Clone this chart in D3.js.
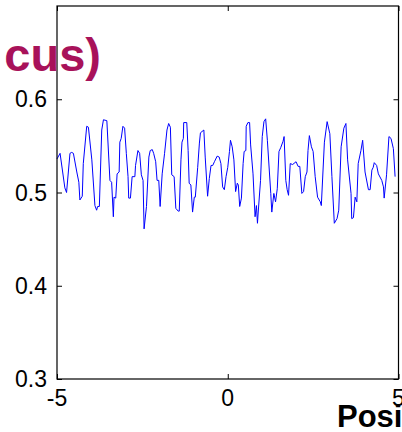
<!DOCTYPE html>
<html>
<head>
<meta charset="utf-8">
<script src="https://cdn.jsdelivr.net/npm/d3@7"></script>
<style>
  html, body { margin: 0; padding: 0; background: #fff; overflow: hidden; }
  svg { display: block; font-family: "Liberation Sans", Arial, Helvetica, sans-serif; }
</style>
</head>
<body>
<svg id="chart" width="402" height="432"></svg>
<script>
var positions = [
  -5.00, -4.91, -4.77, -4.72, -4.62, -4.57, -4.52, -4.42, -4.36, -4.33,
  -4.26, -4.23, -4.13, -4.08, -3.98, -3.89, -3.84, -3.81, -3.76, -3.69,
  -3.64, -3.54, -3.45, -3.40, -3.35, -3.33, -3.28, -3.24, -3.18, -3.16,
  -3.12, -3.07, -3.02, -2.97, -2.92, -2.90, -2.85, -2.80, -2.72, -2.70,
  -2.63, -2.58, -2.53, -2.48, -2.45, -2.38, -2.31, -2.27, -2.21, -2.17,
  -2.11, -2.07, -2.02, -1.98, -1.92, -1.85, -1.78, -1.73, -1.68, -1.64,
  -1.57, -1.52, -1.45, -1.42, -1.37, -1.34, -1.30, -1.29, -1.20, -1.16,
  -1.13, -1.08, -1.03, -0.98, -0.95, -0.88, -0.83, -0.80, -0.70, -0.66,
  -0.59, -0.54, -0.49, -0.44, -0.39, -0.31, -0.25, -0.20, -0.15, -0.10,
  -0.05, 0.00, 0.05, 0.08, 0.13, 0.18, 0.23, 0.28, 0.31, 0.35,
  0.40, 0.45, 0.48, 0.53, 0.54, 0.59, 0.64, 0.67, 0.74, 0.80,
  0.84, 0.87, 0.89, 0.96, 1.01, 1.06, 1.11, 1.16, 1.26, 1.29,
  1.35, 1.40, 1.45, 1.50, 1.55, 1.62, 1.65, 1.70, 1.74, 1.78,
  1.83, 1.90, 2.00, 2.06, 2.11, 2.17, 2.22, 2.27, 2.32, 2.35,
  2.39, 2.45, 2.50, 2.56, 2.63, 2.71, 2.74, 2.83, 2.91, 2.99,
  3.05, 3.12, 3.20, 3.25, 3.32, 3.40, 3.46, 3.51, 3.61, 3.63,
  3.68, 3.73, 3.78, 3.82, 3.90, 3.95, 4.02, 4.12, 4.17, 4.22,
  4.26, 4.29, 4.36, 4.41, 4.51, 4.56, 4.58, 4.65, 4.72, 4.78,
  4.85, 4.90
];
var signal = [
  0.536, 0.542, 0.505, 0.500, 0.542, 0.543, 0.542, 0.522, 0.511, 0.492,
  0.496, 0.531, 0.571, 0.570, 0.535, 0.486, 0.481, 0.485, 0.485, 0.567,
  0.578, 0.577, 0.513, 0.511, 0.474, 0.495, 0.494, 0.520, 0.522, 0.554,
  0.558, 0.571, 0.569, 0.542, 0.517, 0.494, 0.494, 0.517, 0.517, 0.529,
  0.545, 0.542, 0.519, 0.513, 0.461, 0.485, 0.538, 0.545, 0.546, 0.542,
  0.533, 0.513, 0.513, 0.485, 0.520, 0.542, 0.567, 0.574, 0.570, 0.519,
  0.517, 0.483, 0.480, 0.480, 0.535, 0.554, 0.558, 0.575, 0.575, 0.545,
  0.510, 0.508, 0.479, 0.495, 0.495, 0.527, 0.553, 0.564, 0.567, 0.538,
  0.496, 0.515, 0.529, 0.529, 0.533, 0.539, 0.538, 0.531, 0.506, 0.503,
  0.517, 0.527, 0.544, 0.556, 0.549, 0.535, 0.501, 0.510, 0.508, 0.485,
  0.494, 0.531, 0.544, 0.545, 0.571, 0.575, 0.575, 0.551, 0.520, 0.474,
  0.486, 0.467, 0.478, 0.513, 0.560, 0.576, 0.579, 0.556, 0.499, 0.479,
  0.499, 0.490, 0.504, 0.544, 0.548, 0.555, 0.560, 0.513, 0.503, 0.497,
  0.531, 0.530, 0.533, 0.528, 0.528, 0.499, 0.501, 0.517, 0.522, 0.545,
  0.561, 0.549, 0.544, 0.517, 0.495, 0.490, 0.486, 0.554, 0.576, 0.563,
  0.517, 0.467, 0.472, 0.481, 0.549, 0.569, 0.574, 0.535, 0.499, 0.472,
  0.473, 0.495, 0.490, 0.531, 0.545, 0.556, 0.522, 0.503, 0.503, 0.524,
  0.527, 0.532, 0.529, 0.520, 0.513, 0.506, 0.494, 0.519, 0.560, 0.558,
  0.547, 0.517
];
var xTicks = [-5, 0, 5];
var yTicks = [0.3, 0.4, 0.5, 0.6];
var titleText = "cus)";
var xLabelText = "Position";

(function () {
    var svg = d3.select("#chart");
    var plotLeft = 57, plotRight = 398.5, plotTop = 6, plotBottom = 379;

    var x = d3.scaleLinear().domain([-5, 5]).range([plotLeft, plotRight]);
    var y = d3.scaleLinear().domain([0.3, 0.7]).range([plotBottom, plotTop]);

    var points = positions.map(function (p, i) { return [p, signal[i]]; });

    // data line
    svg.append("path")
        .datum(points)
        .attr("fill", "none")
        .attr("stroke", "#0000ff")
        .attr("stroke-width", 1)
        .attr("d", d3.line()
            .x(function (d) { return x(d[0]); })
            .y(function (d) { return y(d[1]); }));

    // ticks on all four sides, pointing inward
    var tickLen = 5;
    function styleAxis(g) {
        g.selectAll("text").remove();
        g.selectAll("line").attr("stroke", "#000");
        g.select(".domain").remove();
    }
    svg.append("g")
        .attr("transform", "translate(0," + plotBottom + ")")
        .call(d3.axisTop(x).tickValues(xTicks).tickSize(tickLen))
        .call(styleAxis);
    svg.append("g")
        .attr("transform", "translate(0," + plotTop + ")")
        .call(d3.axisBottom(x).tickValues(xTicks).tickSize(tickLen))
        .call(styleAxis);
    svg.append("g")
        .attr("transform", "translate(" + plotLeft + ",0)")
        .call(d3.axisRight(y).tickValues(yTicks).tickSize(tickLen))
        .call(styleAxis);
    svg.append("g")
        .attr("transform", "translate(" + plotRight + ",0)")
        .call(d3.axisLeft(y).tickValues(yTicks).tickSize(tickLen))
        .call(styleAxis);

    // frame
    svg.append("rect")
        .attr("x", plotLeft)
        .attr("y", plotTop)
        .attr("width", plotRight - plotLeft)
        .attr("height", plotBottom - plotTop)
        .attr("fill", "none")
        .attr("stroke", "#000")
        .attr("stroke-width", 1.2);

    // tick labels
    svg.selectAll("text.xtick")
        .data(xTicks)
        .enter().append("text")
        .attr("class", "xtick")
        .attr("x", function (d) { return x(d); })
        .attr("y", 406)
        .attr("text-anchor", "middle")
        .attr("font-size", 23)
        .text(function (d) { return d; });

    svg.selectAll("text.ytick")
        .data(yTicks)
        .enter().append("text")
        .attr("class", "ytick")
        .attr("x", 47)
        .attr("y", function (d) { return y(d) + 8; })
        .attr("text-anchor", "end")
        .attr("font-size", 23)
        .text(function (d) { return d3.format(".1f")(d); });

    // title and x label, both cut off by the crop
    svg.append("text")
        .attr("x", 101)
        .attr("y", 71)
        .attr("text-anchor", "end")
        .attr("font-size", 47)
        .attr("font-weight", "bold")
        .attr("fill", "#a8125a")
        .text(titleText);

    svg.append("text")
        .attr("x", 337)
        .attr("y", 427)
        .attr("font-size", 31)
        .attr("font-weight", "bold")
        .attr("fill", "#000")
        .text(xLabelText);
})();
</script>
</body>
</html>
